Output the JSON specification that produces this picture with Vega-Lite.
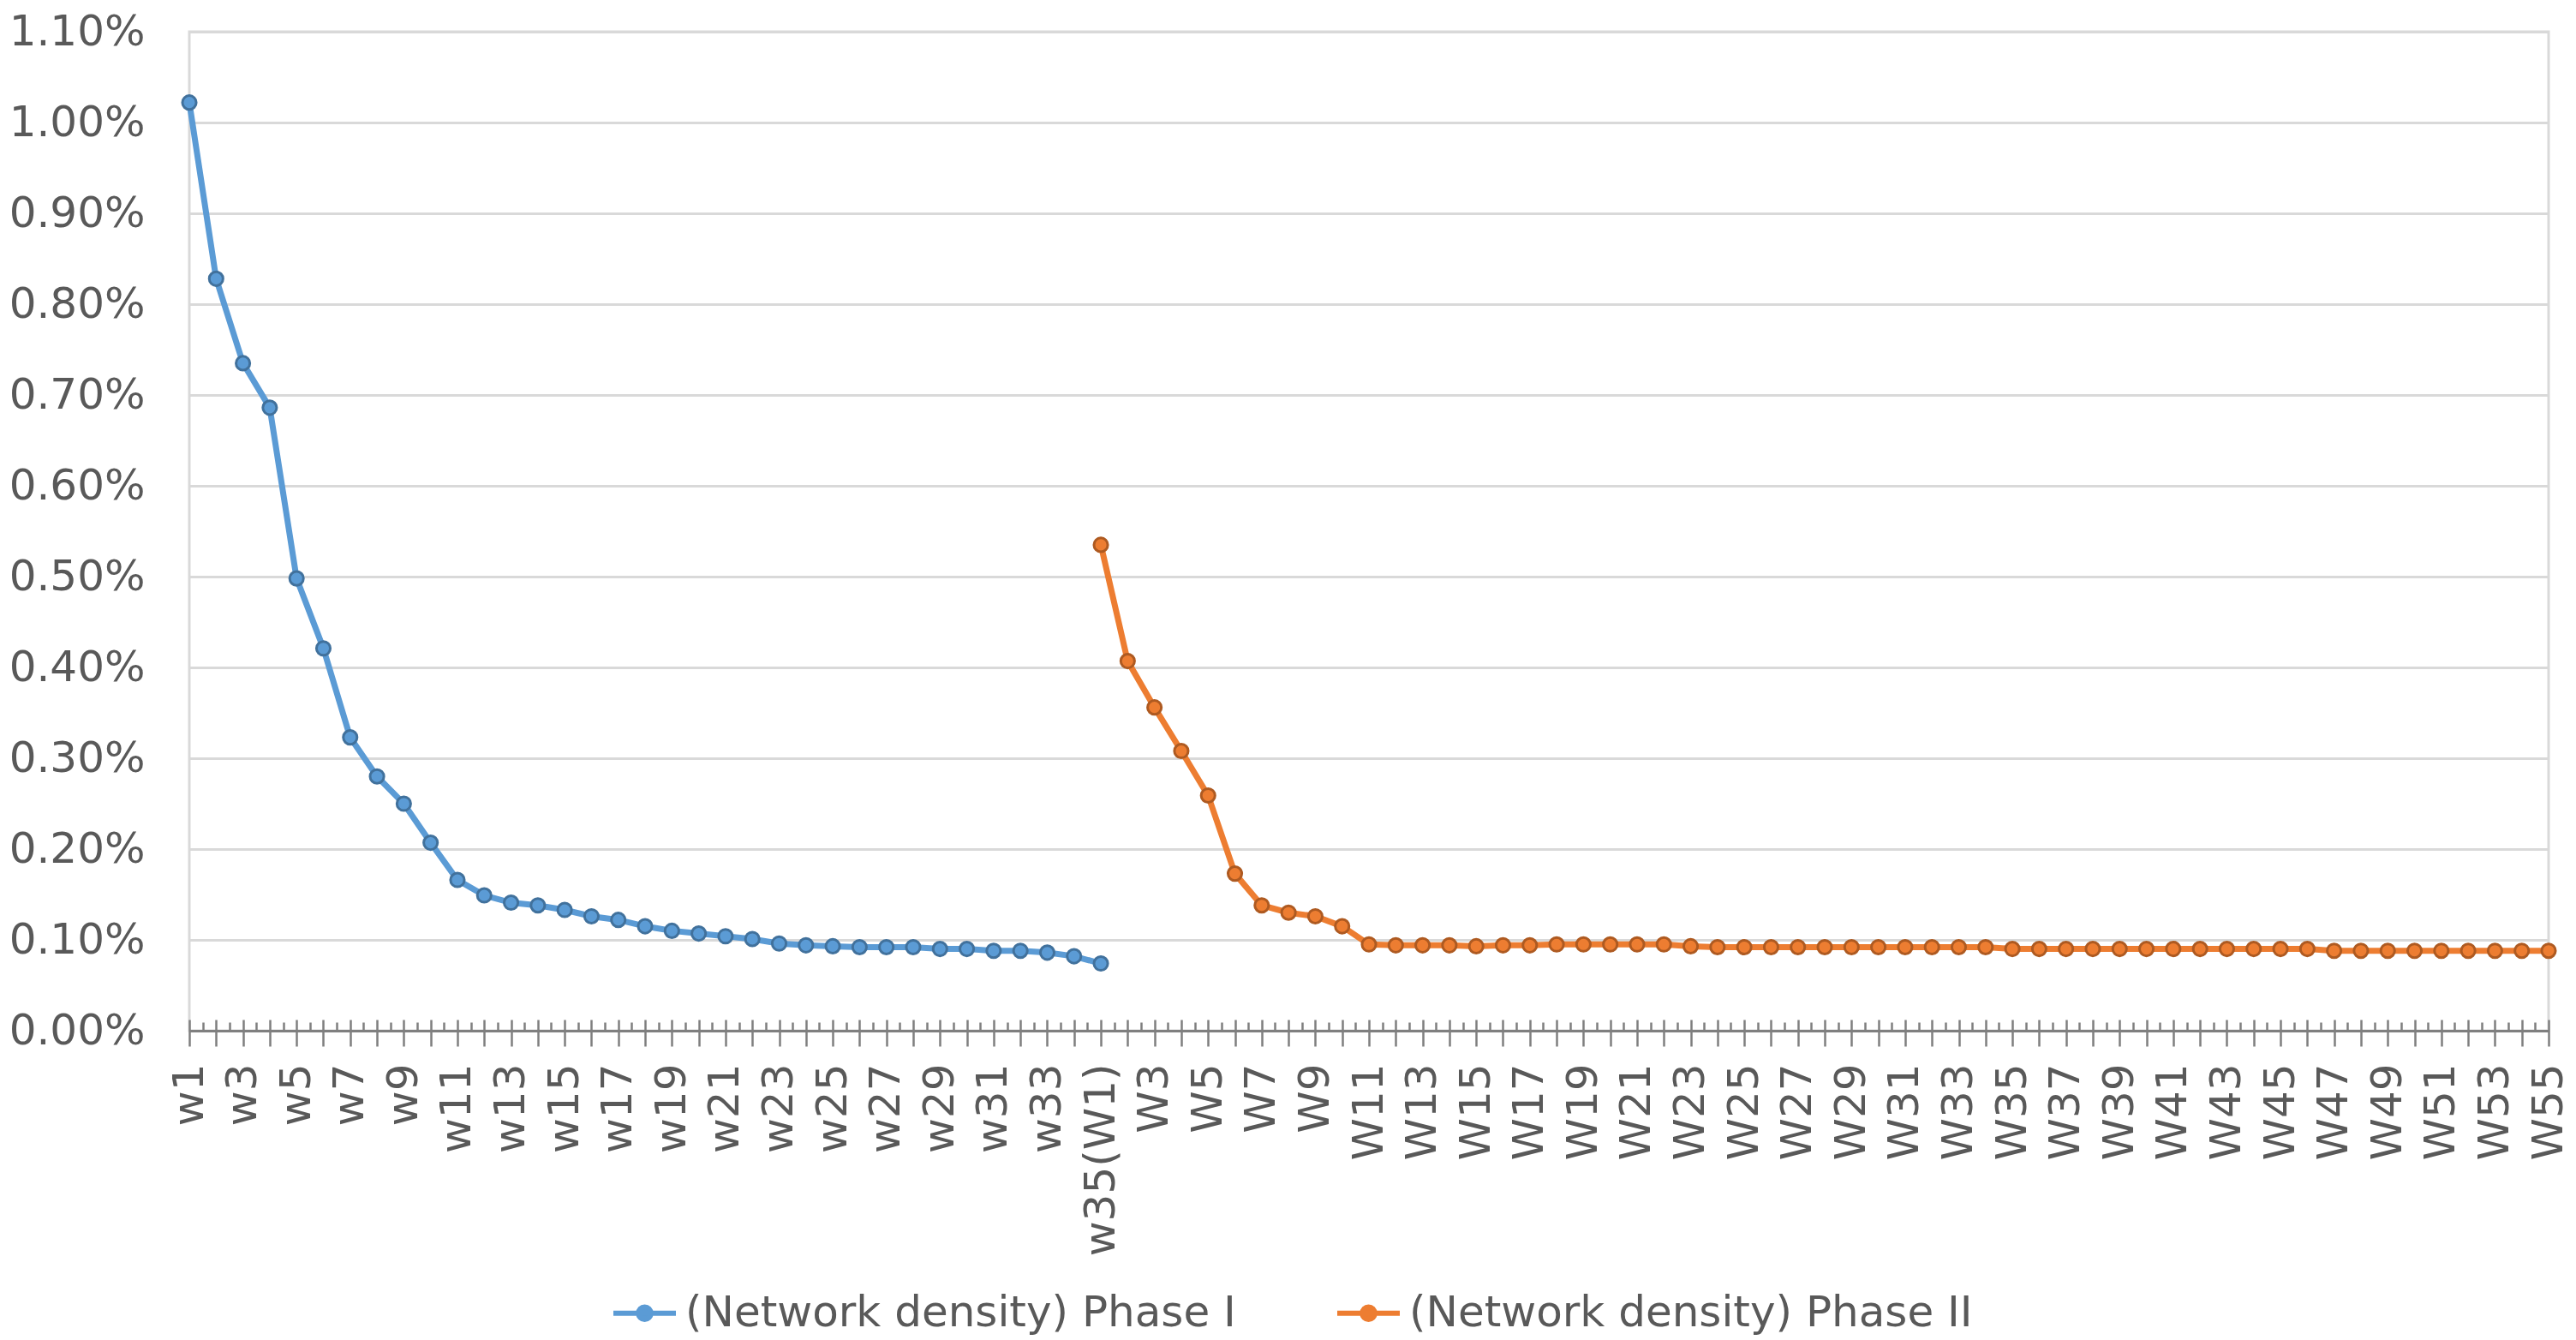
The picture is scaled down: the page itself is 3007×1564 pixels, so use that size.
{
  "$schema": "https://vega.github.io/schema/vega-lite/v6.json",
  "width": 2754,
  "height": 1166,
  "autosize": {"type": "none"},
  "padding": {"left": 221, "top": 37, "right": 32, "bottom": 361},
  "background": "white",
  "data": {
    "values": [
      {"week": "w1", "phase": "(Network density) Phase I", "density": 0.01022},
      {"week": "w2", "phase": "(Network density) Phase I", "density": 0.00828},
      {"week": "w3", "phase": "(Network density) Phase I", "density": 0.00735},
      {"week": "w4", "phase": "(Network density) Phase I", "density": 0.00686},
      {"week": "w5", "phase": "(Network density) Phase I", "density": 0.00498},
      {"week": "w6", "phase": "(Network density) Phase I", "density": 0.00421},
      {"week": "w7", "phase": "(Network density) Phase I", "density": 0.00323},
      {"week": "w8", "phase": "(Network density) Phase I", "density": 0.00280},
      {"week": "w9", "phase": "(Network density) Phase I", "density": 0.00250},
      {"week": "w10", "phase": "(Network density) Phase I", "density": 0.00207},
      {"week": "w11", "phase": "(Network density) Phase I", "density": 0.00166},
      {"week": "w12", "phase": "(Network density) Phase I", "density": 0.00149},
      {"week": "w13", "phase": "(Network density) Phase I", "density": 0.00141},
      {"week": "w14", "phase": "(Network density) Phase I", "density": 0.00138},
      {"week": "w15", "phase": "(Network density) Phase I", "density": 0.00133},
      {"week": "w16", "phase": "(Network density) Phase I", "density": 0.00126},
      {"week": "w17", "phase": "(Network density) Phase I", "density": 0.00122},
      {"week": "w18", "phase": "(Network density) Phase I", "density": 0.00115},
      {"week": "w19", "phase": "(Network density) Phase I", "density": 0.00110},
      {"week": "w20", "phase": "(Network density) Phase I", "density": 0.00107},
      {"week": "w21", "phase": "(Network density) Phase I", "density": 0.00104},
      {"week": "w22", "phase": "(Network density) Phase I", "density": 0.00101},
      {"week": "w23", "phase": "(Network density) Phase I", "density": 0.00096},
      {"week": "w24", "phase": "(Network density) Phase I", "density": 0.00094},
      {"week": "w25", "phase": "(Network density) Phase I", "density": 0.00093},
      {"week": "w26", "phase": "(Network density) Phase I", "density": 0.00092},
      {"week": "w27", "phase": "(Network density) Phase I", "density": 0.00092},
      {"week": "w28", "phase": "(Network density) Phase I", "density": 0.00092},
      {"week": "w29", "phase": "(Network density) Phase I", "density": 0.00090},
      {"week": "w30", "phase": "(Network density) Phase I", "density": 0.00090},
      {"week": "w31", "phase": "(Network density) Phase I", "density": 0.00088},
      {"week": "w32", "phase": "(Network density) Phase I", "density": 0.00088},
      {"week": "w33", "phase": "(Network density) Phase I", "density": 0.00086},
      {"week": "w34", "phase": "(Network density) Phase I", "density": 0.00082},
      {"week": "w35(W1)", "phase": "(Network density) Phase I", "density": 0.00074},
      {"week": "w35(W1)", "phase": "(Network density) Phase II", "density": 0.00535},
      {"week": "W2", "phase": "(Network density) Phase II", "density": 0.00407},
      {"week": "W3", "phase": "(Network density) Phase II", "density": 0.00356},
      {"week": "W4", "phase": "(Network density) Phase II", "density": 0.00308},
      {"week": "W5", "phase": "(Network density) Phase II", "density": 0.00259},
      {"week": "W6", "phase": "(Network density) Phase II", "density": 0.00173},
      {"week": "W7", "phase": "(Network density) Phase II", "density": 0.00138},
      {"week": "W8", "phase": "(Network density) Phase II", "density": 0.00130},
      {"week": "W9", "phase": "(Network density) Phase II", "density": 0.00126},
      {"week": "W10", "phase": "(Network density) Phase II", "density": 0.00115},
      {"week": "W11", "phase": "(Network density) Phase II", "density": 0.00095},
      {"week": "W12", "phase": "(Network density) Phase II", "density": 0.00094},
      {"week": "W13", "phase": "(Network density) Phase II", "density": 0.00094},
      {"week": "W14", "phase": "(Network density) Phase II", "density": 0.00094},
      {"week": "W15", "phase": "(Network density) Phase II", "density": 0.00093},
      {"week": "W16", "phase": "(Network density) Phase II", "density": 0.00094},
      {"week": "W17", "phase": "(Network density) Phase II", "density": 0.00094},
      {"week": "W18", "phase": "(Network density) Phase II", "density": 0.00095},
      {"week": "W19", "phase": "(Network density) Phase II", "density": 0.00095},
      {"week": "W20", "phase": "(Network density) Phase II", "density": 0.00095},
      {"week": "W21", "phase": "(Network density) Phase II", "density": 0.00095},
      {"week": "W22", "phase": "(Network density) Phase II", "density": 0.00095},
      {"week": "W23", "phase": "(Network density) Phase II", "density": 0.00093},
      {"week": "W24", "phase": "(Network density) Phase II", "density": 0.00092},
      {"week": "W25", "phase": "(Network density) Phase II", "density": 0.00092},
      {"week": "W26", "phase": "(Network density) Phase II", "density": 0.00092},
      {"week": "W27", "phase": "(Network density) Phase II", "density": 0.00092},
      {"week": "W28", "phase": "(Network density) Phase II", "density": 0.00092},
      {"week": "W29", "phase": "(Network density) Phase II", "density": 0.00092},
      {"week": "W30", "phase": "(Network density) Phase II", "density": 0.00092},
      {"week": "W31", "phase": "(Network density) Phase II", "density": 0.00092},
      {"week": "W32", "phase": "(Network density) Phase II", "density": 0.00092},
      {"week": "W33", "phase": "(Network density) Phase II", "density": 0.00092},
      {"week": "W34", "phase": "(Network density) Phase II", "density": 0.00092},
      {"week": "W35", "phase": "(Network density) Phase II", "density": 0.00090},
      {"week": "W36", "phase": "(Network density) Phase II", "density": 0.00090},
      {"week": "W37", "phase": "(Network density) Phase II", "density": 0.00090},
      {"week": "W38", "phase": "(Network density) Phase II", "density": 0.00090},
      {"week": "W39", "phase": "(Network density) Phase II", "density": 0.00090},
      {"week": "W40", "phase": "(Network density) Phase II", "density": 0.00090},
      {"week": "W41", "phase": "(Network density) Phase II", "density": 0.00090},
      {"week": "W42", "phase": "(Network density) Phase II", "density": 0.00090},
      {"week": "W43", "phase": "(Network density) Phase II", "density": 0.00090},
      {"week": "W44", "phase": "(Network density) Phase II", "density": 0.00090},
      {"week": "W45", "phase": "(Network density) Phase II", "density": 0.00090},
      {"week": "W46", "phase": "(Network density) Phase II", "density": 0.00090},
      {"week": "W47", "phase": "(Network density) Phase II", "density": 0.00088},
      {"week": "W48", "phase": "(Network density) Phase II", "density": 0.00088},
      {"week": "W49", "phase": "(Network density) Phase II", "density": 0.00088},
      {"week": "W50", "phase": "(Network density) Phase II", "density": 0.00088},
      {"week": "W51", "phase": "(Network density) Phase II", "density": 0.00088},
      {"week": "W52", "phase": "(Network density) Phase II", "density": 0.00088},
      {"week": "W53", "phase": "(Network density) Phase II", "density": 0.00088},
      {"week": "W54", "phase": "(Network density) Phase II", "density": 0.00088},
      {"week": "W55", "phase": "(Network density) Phase II", "density": 0.00088}
    ]
  },
  "encoding": {
    "y": {
      "field": "density",
      "type": "quantitative",
      "scale": {"domain": [0, 0.011], "nice": false},
      "axis": {
        "title": null,
        "format": ".2%",
        "values": [0, 0.001, 0.002, 0.003, 0.004, 0.005, 0.006, 0.007, 0.008, 0.009, 0.01, 0.011],
        "domain": false,
        "ticks": false,
        "labelPadding": 52,
        "gridColor": "#d9d9d9",
        "gridWidth": 3
      }
    },
    "color": {
      "field": "phase",
      "type": "nominal",
      "scale": {"range": ["#5b9bd5", "#ed7d31"]},
      "legend": {
        "title": null,
        "orient": "none",
        "direction": "horizontal",
        "legendX": 492,
        "legendY": 1456,
        "padding": 0,
        "symbolType": "M-1,0H1M-0.2,0A0.2,0.2,0,1,1,0.2,0A0.2,0.2,0,1,1,-0.2,0Z",
        "symbolSize": 5329,
        "symbolStrokeWidth": 6,
        "labelOffset": 8,
        "columnPadding": 106,
        "labelLimit": 2000,
        "labelFontSize": 50,
        "labelColor": "#595959",
        "encode": {
          "symbols": {
            "update": {
              "fill": {"scale": "color", "field": "value"},
              "stroke": {"scale": "color", "field": "value"},
              "strokeWidth": {"value": 6},
              "opacity": {"value": 1}
            }
          }
        }
      }
    }
  },
  "layer": [
    {
      "mark": {"type": "line", "strokeWidth": 7},
      "encoding": {
        "x": {
          "field": "week",
          "type": "ordinal",
          "sort": null,
          "scale": {"type": "point", "padding": 0},
          "axis": {
            "title": null,
            "orient": "bottom",
            "grid": false,
            "domain": false,
            "offset": -13,
            "tickSize": 31,
            "tickWidth": 2.5,
            "tickColor": "#7f7f7f",
            "labelAngle": 270,
            "labelPadding": 20,
            "labelLimit": 1000,
            "labelExpr": "indexof('13579', slice(datum.label, -1)) >= 0 || indexof(datum.label, '(') >= 0 ? datum.label : ''"
          }
        }
      }
    },
    {
      "mark": {"type": "point", "filled": true, "size": 260, "strokeWidth": 3, "opacity": 1},
      "encoding": {
        "x": {
          "field": "week",
          "type": "ordinal",
          "sort": null,
          "scale": {"type": "point", "padding": 0},
          "axis": {
            "title": null,
            "orient": "bottom",
            "grid": false,
            "labels": false,
            "domain": true,
            "domainColor": "#7f7f7f",
            "domainWidth": 3,
            "tickSize": -10,
            "tickWidth": 2.5,
            "tickColor": "#7f7f7f",
            "tickOffset": 15.648,
            "values": ["w1","w2","w3","w4","w5","w6","w7","w8","w9","w10","w11","w12","w13","w14","w15","w16","w17","w18","w19","w20","w21","w22","w23","w24","w25","w26","w27","w28","w29","w30","w31","w32","w33","w34","w35(W1)","W2","W3","W4","W5","W6","W7","W8","W9","W10","W11","W12","W13","W14","W15","W16","W17","W18","W19","W20","W21","W22","W23","W24","W25","W26","W27","W28","W29","W30","W31","W32","W33","W34","W35","W36","W37","W38","W39","W40","W41","W42","W43","W44","W45","W46","W47","W48","W49","W50","W51","W52","W53","W54"]
          }
        },
        "stroke": {
          "field": "phase",
          "type": "nominal",
          "scale": {"range": ["#41719c", "#ae5a21"]},
          "legend": null
        }
      }
    }
  ],
  "resolve": {"scale": {"x": "shared"}, "axis": {"x": "independent"}},
  "config": {
    "font": "DejaVu Sans",
    "view": {"stroke": "#d9d9d9", "strokeWidth": 3},
    "axis": {
      "labelFont": "DejaVu Sans",
      "labelFontSize": 50,
      "labelColor": "#595959"
    },
    "legend": {"labelFont": "DejaVu Sans"}
  }
}
